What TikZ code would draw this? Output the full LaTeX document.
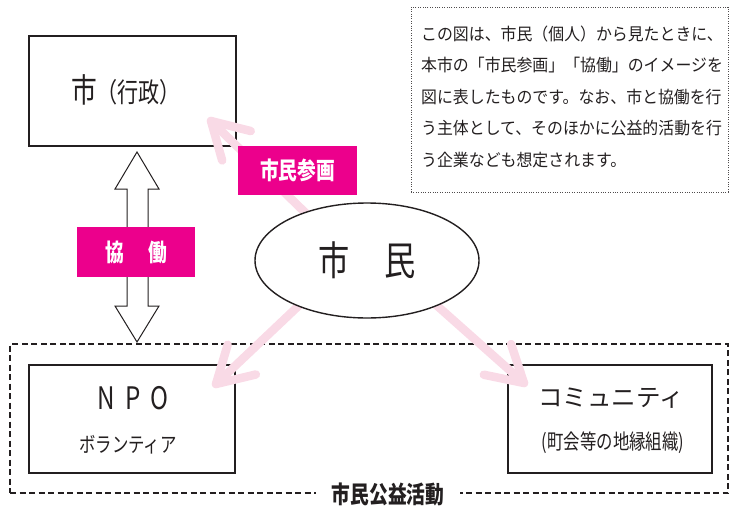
\documentclass[tikz,border=0pt]{standalone}
\usepackage{fontspec}
\setmainfont{Noto Sans CJK JP}
\newfontfamily\cnarrow{Noto Sans CJK JP}[FakeStretch=0.78]
\newfontfamily\cpara{Noto Sans CJK JP}[FakeStretch=0.935]
\usetikzlibrary{calc,shapes.geometric}
\definecolor{mag}{RGB}{236,0,140}
\definecolor{pinkA}{RGB}{249,218,230}
\definecolor{ink}{RGB}{35,31,32}
\begin{document}
\begin{tikzpicture}[x=1pt,y=-1pt,
  box/.style={draw=ink,line width=1.4pt,inner sep=0pt},
  tag/.style={fill=mag,text=white,inner sep=0pt,font=\cnarrow\bfseries\fontsize{24}{24}\selectfont},
  pinkline/.style={draw=pinkA,line width=8.5pt,line cap=round,line join=round},
  txt/.style={inner sep=0pt,text=ink},
  para/.style={inner sep=0pt,text=ink,anchor=base west,font=\cpara\fontsize{17}{17}\selectfont},
]
\useasboundingbox (0,0) rectangle (730,508);

% dashed frame of civic activity
\node[draw=ink,line width=1.1pt,dash pattern=on 6pt off 3.5pt,inner sep=0pt,
      minimum width=718pt,minimum height=149pt] (civic) at (369,418.5) {};

% explanatory dotted box
\node[draw=ink!80,line width=0.9pt,dash pattern=on 1pt off 1.4pt,inner sep=0pt,
      minimum width=317pt,minimum height=185pt] (note) at (569.5,99.5) {};
\node[para] (p1) at (421,40.5) {この図は、市民（個人）から見たときに、};
\node[para] (p2) at (421,72)   {本市の「市民参画」「協働」のイメージを};
\node[para] (p3) at (421,103.5){図に表したものです。なお、市と協働を行};
\node[para] (p4) at (421,135)  {う主体として、そのほかに公益的活動を行};
\node[para] (p5) at (421,166.5){う企業なども想定されます。};

% main boxes
\node[box,minimum width=207pt,minimum height=110pt] (city) at (132.5,91) {};
\node[txt] (citytxt) at (126,90) {{\cnarrow\fontsize{33}{33}\selectfont 市}{\cnarrow\fontsize{27}{27}\selectfont （行政）}};

\node[box,minimum width=206pt,minimum height=108pt] (npo) at (132,419) {};
\node[txt,font=\cnarrow\fontsize{31}{31}\selectfont] (npotxt) at (133,398) {N\hspace{10pt}P\hspace{10pt}O};
\node[txt,font=\cnarrow\fontsize{21}{21}\selectfont] (voltxt) at (128,445) {ボランティア};

\node[box,minimum width=204pt,minimum height=108pt] (comm) at (610,419) {};
\node[txt,font=\fontsize{24.5}{24.5}\selectfont] (commtxt) at (611,398) {コミュニティ};
\node[txt,font=\cnarrow\fontsize{21}{21}\selectfont] (chotxt) at (613,443) {(町会等の地縁組織)};

% pink arrows (participation)
\coordinate (sA) at (319,226);  \coordinate (tA) at (211,121);
\coordinate (sB) at (310,295);  \coordinate (tB) at (216,384);
\coordinate (sC) at (425,295);  \coordinate (tC) at (524,383);
\foreach \s/\t in {sA/tA,sB/tB,sC/tC}{
  \draw[pinkline] (\s) -- (\t);
  \draw[pinkline] ($(\t)!41pt!30:(\s)$) -- (\t) -- ($(\t)!41pt!-30:(\s)$);
}

% citizen ellipse
\node[draw=ink,line width=1.4pt,fill=white,ellipse,inner sep=0pt,
      minimum width=224pt,minimum height=115pt,
      font=\cnarrow\fontsize{40}{40}\selectfont,text=ink] (citizen) at (367,260.5)
      {市\hspace{35pt}民};

% double arrow (collaboration)
\draw[draw=ink,line width=1pt,fill=white,line join=miter]
  (137,152) -- (115,189) -- (127,189) -- (127,306) -- (115,306) -- (137,342)
  -- (159,306) -- (148,306) -- (148,189) -- (159,189) -- cycle;

% magenta tags
\node[tag,minimum width=119pt,minimum height=49pt] (sanka) at (297.5,170.5) {市民参画};
\node[tag,minimum width=118pt,minimum height=50pt] (kyodo) at (136,252) {協\hspace{1em}働};

% bottom label
\node[fill=white,inner xsep=16pt,inner ysep=2pt,text=ink,
      font=\cnarrow\bfseries\fontsize{24}{24}\selectfont] (koeki) at (388,494) {市民公益活動};
\end{tikzpicture}
\end{document}
